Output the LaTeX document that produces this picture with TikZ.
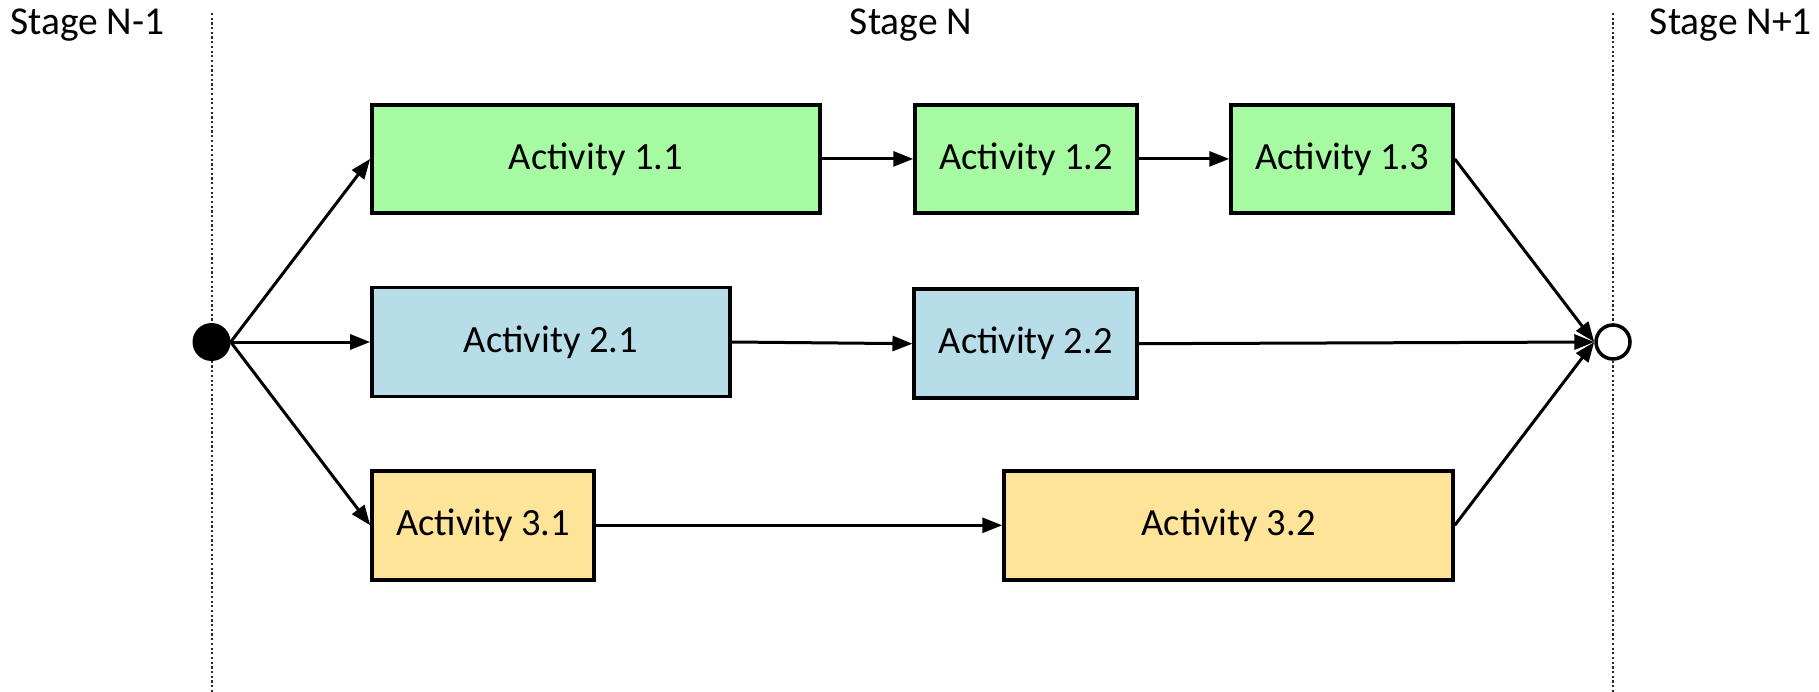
\documentclass[tikz,border=0pt]{standalone}
\usepackage{fontspec}
\setmainfont{Carlito}
\usetikzlibrary{arrows.meta}
\definecolor{actgreen}{RGB}{166,251,162}
\definecolor{actblue}{RGB}{183,221,232}
\definecolor{actyellow}{RGB}{254,228,153}
\definecolor{sepgray}{RGB}{40,40,40}
\tikzset{
  actbox/.style={draw=black, line width=3.5pt, inner sep=0pt, minimum height=109pt,
    font=\fontsize{38.5}{46}\selectfont, text=black},
  stagelabel/.style={inner sep=0pt, font=\fontsize{39.5}{47}\selectfont},
  flow/.style={line width=3pt, -{Triangle[length=20pt,width=15pt]}},
  separator/.style={sepgray, line width=1.8pt, dash pattern=on 2.2pt off 2.5pt},
}
\begin{document}
\begin{tikzpicture}[x=1pt,y=-1pt]
\useasboundingbox (0,0) rectangle (1819,692);
% separators
\coordinate (s1top) at (211.7,13);
\coordinate (s1bot) at (211.7,692);
\coordinate (s2top) at (1612.6,13);
\coordinate (s2bot) at (1612.6,692);
\draw[separator] (s1top) -- (s1bot);
\draw[separator] (s2top) -- (s2bot);
% stage labels
\node[stagelabel, anchor=base west] (stA) at (10,35) {Stage N-1};
\node[stagelabel, anchor=base] (stB) at (911,35) {Stage N};
\node[stagelabel, anchor=base east] (stC) at (1812,35) {Stage N+1};
% start / end
\node[circle, fill=black, inner sep=0pt, minimum size=38pt] (start) at (211.5,342) {};
\node[circle, draw=black, fill=white, line width=3.5pt, inner sep=0pt, minimum size=34pt] (finish) at (1613,342) {};
% activities
\node[actbox, fill=actgreen, minimum width=448pt, minimum height=108pt] (a11) at (595.9,158.9) {Activity 1.1};
\node[actbox, fill=actgreen, minimum width=222pt, minimum height=108pt] (a12) at (1026,158.9) {Activity 1.2};
\node[actbox, fill=actgreen, minimum width=222pt, minimum height=108pt] (a13) at (1342,158.9) {Activity 1.3};
\node[actbox, fill=actblue, minimum width=358pt] (a21) at (550.9,342) {Activity 2.1};
\node[actbox, fill=actblue, minimum width=223pt] (a22) at (1025.7,343.7) {Activity 2.2};
\node[actbox, fill=actyellow, minimum width=222pt] (a31) at (483,525.3) {Activity 3.1};
\node[actbox, fill=actyellow, minimum width=449pt] (a32) at (1228.5,525.3) {Activity 3.2};
% connectors
\draw[flow] (start.east) -- (a11.west);
\draw[flow] (start.east) -- (a21.west);
\draw[flow] (start.east) -- (a31.west);
\draw[flow] (a11.east) -- (a12.west);
\draw[flow] (a12.east) -- (a13.west);
\draw[flow] (a21.east) -- (a22.west);
\draw[flow] (a31.east) -- (a32.west);
\draw[flow] (a13.east) -- (finish.west);
\draw[flow] (a22.east) -- (finish.west);
\draw[flow] (a32.east) -- (finish.west);
\end{tikzpicture}
\end{document}
